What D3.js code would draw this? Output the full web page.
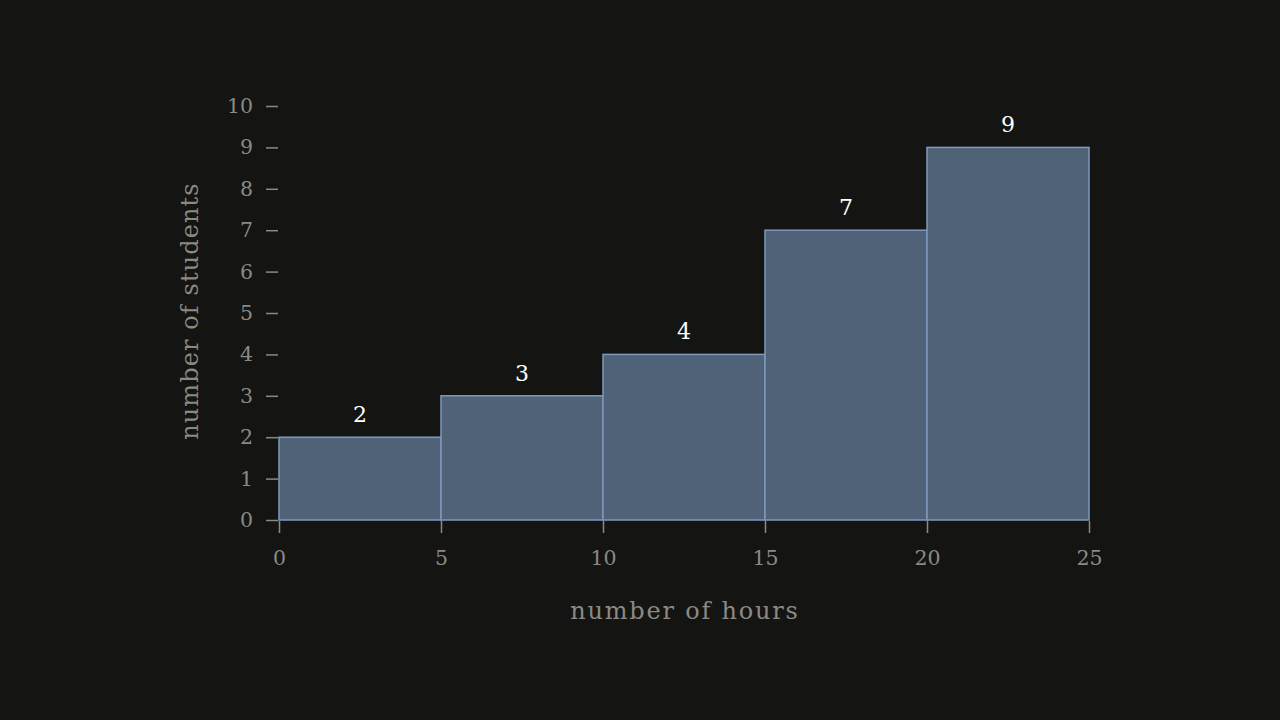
<!DOCTYPE html>
<html>
<head>
<meta charset="utf-8">
<script src="https://cdn.jsdelivr.net/npm/d3@7"></script>
<style>
  html, body { margin: 0; padding: 0; background: #141413; }
  text { font-family: "DejaVu Serif", serif; }
</style>
</head>
<body>
<div id="chart"></div>
<script>
// bins (hours) and counts
const binStarts = [0, 5, 10, 15, 20];
const binEnds = [5, 10, 15, 20, 25];
const counts = [2, 3, 4, 7, 9];
const xTicks = [0, 5, 10, 15, 20, 25];
const yTicks = [0, 1, 2, 3, 4, 5, 6, 7, 8, 9, 10];

const width = 1280, height = 720;
const margin = { top: 106, right: 191, bottom: 200, left: 279 };
const innerW = width - margin.left - margin.right,
  innerH = height - margin.top - margin.bottom;

const svg = d3
  .select("#chart")
  .append("svg")
  .attr("width", width)
  .attr("height", height)
  .style("background", "#141413");

const g = svg.append("g").attr("transform", `translate(${margin.left},${margin.top})`);

const x = d3.scaleLinear().domain([0, 25]).range([0, innerW]);
const y = d3.scaleLinear().domain([0, 10]).range([innerH, 0]);

const axisColor = "#8a8a82";

// y axis: ticks only
const yAxis = g
  .append("g")
  .attr("transform", "translate(-1,0)")
  .call(d3.axisLeft(y).tickValues(yTicks).tickSize(12).tickPadding(13));
yAxis.select(".domain").remove();
yAxis.selectAll("line").attr("stroke", axisColor).attr("stroke-width", 1.5);
yAxis.selectAll("text").attr("fill", axisColor).style("font-size", "20.5px").attr("font-family", "DejaVu Serif");

// x axis
const xAxis = g
  .append("g")
  .attr("transform", `translate(0,${innerH + 1})`)
  .call(d3.axisBottom(x).tickValues(xTicks).tickSize(12).tickPadding(17));
xAxis.select(".domain").remove();
xAxis.selectAll("line").attr("stroke", axisColor).attr("stroke-width", 1.5);
xAxis.selectAll("text").attr("fill", axisColor).style("font-size", "20.5px").attr("font-family", "DejaVu Serif");

// bars
const bins = counts.map((c, i) => ({ x0: binStarts[i], x1: binEnds[i], n: c }));

g.selectAll("rect.bar")
  .data(bins)
  .enter()
  .append("rect")
  .attr("class", "bar")
  .attr("x", (d) => x(d.x0))
  .attr("y", (d) => y(d.n))
  .attr("width", (d) => x(d.x1) - x(d.x0))
  .attr("height", (d) => y(0) - y(d.n))
  .attr("fill", "#506278")
  .attr("stroke", "#7d99bd")
  .attr("stroke-width", 1.5);

// value labels
g.selectAll("text.val")
  .data(bins)
  .enter()
  .append("text")
  .attr("class", "val")
  .attr("x", (d) => x((d.x0 + d.x1) / 2))
  .attr("y", (d) => y(d.n) - 15)
  .attr("text-anchor", "middle")
  .attr("fill", "#ffffff")
  .style("font-size", "22px")
  .text((d) => d.n);

// axis titles
g.append("text")
  .attr("x", innerW / 2 + 1)
  .attr("y", innerH + 99)
  .attr("text-anchor", "middle")
  .attr("fill", axisColor)
  .style("font-size", "24px")
  .style("letter-spacing", "1.8px")
  .text("number of hours");

g.append("text")
  .attr("transform", `translate(${-81},${innerH / 2 - 2}) rotate(-90)`)
  .attr("text-anchor", "middle")
  .attr("fill", axisColor)
  .style("font-size", "24px")
  .style("letter-spacing", "1.1px")
  .text("number of students");
</script>
</body>
</html>
